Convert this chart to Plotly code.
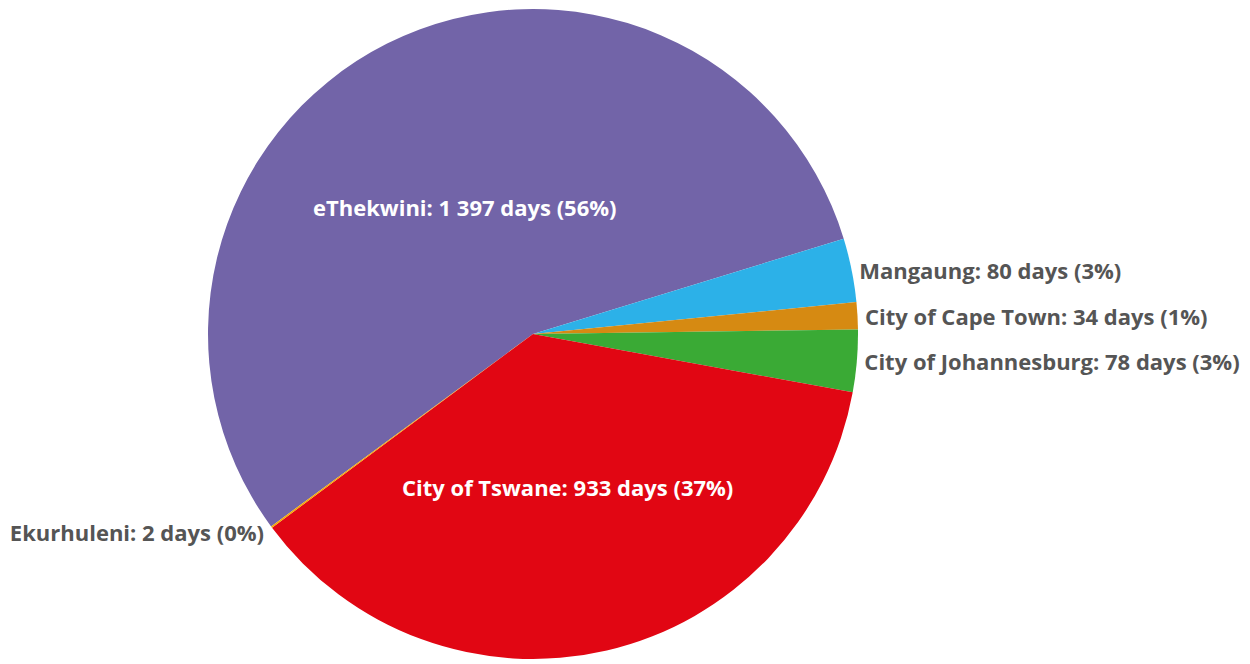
import math
import plotly.graph_objects as go

labels = ["eThekwini", "Mangaung", "City of Cape Town", "City of Johannesburg", "City of Tswane", "Ekurhuleni"]
days = [1397, 80, 34, 78, 933, 2]
colors = ["#7264A8", "#2CB1E8", "#D68A12", "#3AAA35", "#E10613", "#F5A800"]
text_positions = ["none", "outside", "outside", "outside", "none", "outside"]
inside_labels = ["eThekwini", "City of Tswane"]

W, H = 1250, 664
MT, MB = 9, 1
ROTATION = -126.3

total = sum(days)
# whole-number percentages that add up to 100 (largest remainder)
raw = [v / total * 100 for v in days]
pcts = [math.floor(x) for x in raw]
order = sorted(range(len(raw)), key=lambda i: raw[i] - pcts[i], reverse=True)
for i in order[: 100 - sum(pcts)]:
    pcts[i] += 1

texts = [f"{l}: {format(v, ',').replace(',', ' ')} days ({p}%)" for l, v, p in zip(labels, days, pcts)]

pie_cx, pie_r = 533, 327
pie_cy = MT + (H - MT - MB) / 2
fig = go.Figure(go.Pie(
    labels=labels,
    values=days,
    text=texts,
    textinfo="text",
    textposition=text_positions,
    sort=False,
    direction="clockwise",
    rotation=ROTATION,
    marker=dict(colors=colors, line=dict(color="#FFFFFF", width=0)),
    outsidetextfont=dict(family="Open Sans", size=22, color="#555555", weight="bold"),
    domain=dict(x=[(pie_cx - pie_r) / W, (pie_cx + pie_r) / W], y=[0, 1]),
    showlegend=False,
    hoverinfo="label+value+percent",
))

# inside labels placed along each slice's middle angle
label_frac = 0.46
start = ROTATION
for l, v, t in zip(labels, days, texts):
    sweep = v / total * 360
    mid = math.radians(start + sweep / 2)
    start += sweep
    if l not in inside_labels:
        continue
    px = pie_cx + label_frac * pie_r * math.sin(mid)
    py = pie_cy - label_frac * pie_r * math.cos(mid)
    fig.add_annotation(
        x=px / W, y=(H - MB - py) / (H - MT - MB), xref="paper", yref="paper",
        text=t, showarrow=False, xanchor="center", yanchor="middle", yshift=-7,
        font=dict(family="Open Sans", size=22, color="#FFFFFF", weight="bold"),
    )

fig.update_layout(
    width=W,
    height=H,
    margin=dict(l=0, r=0, t=MT, b=MB),
    paper_bgcolor="#FFFFFF",
    plot_bgcolor="#FFFFFF",
)

fig.write_html(
    "out.html",
    config={"displayModeBar": False},
    post_script="document.body.style.margin='0';",
)
